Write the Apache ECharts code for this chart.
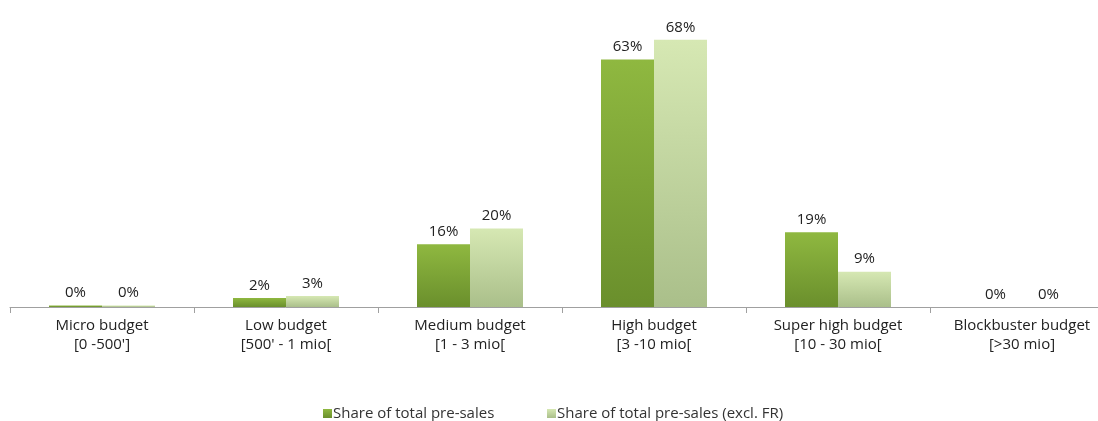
<!DOCTYPE html>
<html>
<head>
<meta charset="utf-8">
<script src="https://cdn.jsdelivr.net/npm/echarts@6/dist/echarts.min.js"></script>
<style>
  html, body { margin: 0; padding: 0; background: #fff; overflow: hidden; }
  #chart { width: 1114px; height: 421px; }
</style>
</head>
<body>
<div id="chart"></div>
<script>
const categories = [
  "Micro budget\n[0 -500']",
  "Low budget\n[500' - 1 mio[",
  "Medium budget\n[1 - 3 mio[",
  "High budget\n[3 -10 mio[",
  "Super high budget\n[10 - 30 mio[",
  "Blockbuster budget\n[>30 mio]"
];
const seriesNames = ['Share of total pre-sales', 'Share of total pre-sales (excl. FR)'];
const totalPreSales = [0.4, 2.3, 16, 63, 19, 0];
const exclFrPreSales = [0.4, 2.8, 20, 68, 9, 0];

const font = 'Open Sans';

const darkGreen = new echarts.graphic.LinearGradient(0, 0, 0, 1, [
  { offset: 0, color: '#8fb840' },
  { offset: 1, color: '#6a8f2c' }
]);
const lightGreen = new echarts.graphic.LinearGradient(0, 0, 0, 1, [
  { offset: 0, color: '#d6e8b3' },
  { offset: 1, color: '#aabf8a' }
]);

const labelCfg = {
  show: true,
  position: 'top',
  distance: 5,
  fontFamily: font,
  fontSize: 15,
  color: '#222',
  formatter: (p) => Math.round(p.value) + '%'
};

const legendBase = {
  top: 406,
  padding: 0,
  itemWidth: 9,
  itemHeight: 9,
  icon: 'rect',
  textStyle: { fontFamily: font, fontSize: 15, color: '#333', padding: [0, 0, 0, -4] }
};

const chart = echarts.init(document.getElementById('chart'));
chart.setOption({
  animation: false,
  grid: { left: 10, top: 32, right: 0, height: 275, containLabel: false },
  legend: [
    Object.assign({ left: 323, data: [seriesNames[0]] }, legendBase),
    Object.assign({ left: 547, data: [seriesNames[1]] }, legendBase)
  ],
  xAxis: {
    type: 'category',
    data: categories,
    axisLine: { lineStyle: { color: '#a0a0a0' } },
    axisTick: { show: true, length: 6, lineStyle: { color: '#a0a0a0' } },
    axisLabel: { fontFamily: font, fontSize: 15, color: '#222', lineHeight: 19, margin: 9, interval: 0 }
  },
  yAxis: {
    type: 'value',
    min: 0,
    max: 70,
    show: false
  },
  series: [
    {
      name: seriesNames[0],
      type: 'bar',
      data: totalPreSales,
      barWidth: 53,
      barGap: '0%',
      itemStyle: { color: darkGreen, borderWidth: 0 },
      label: labelCfg
    },
    {
      name: seriesNames[1],
      type: 'bar',
      data: exclFrPreSales,
      barWidth: 53,
      barGap: '0%',
      itemStyle: { color: lightGreen, borderWidth: 0 },
      label: labelCfg
    }
  ]
});
</script>
</body>
</html>
